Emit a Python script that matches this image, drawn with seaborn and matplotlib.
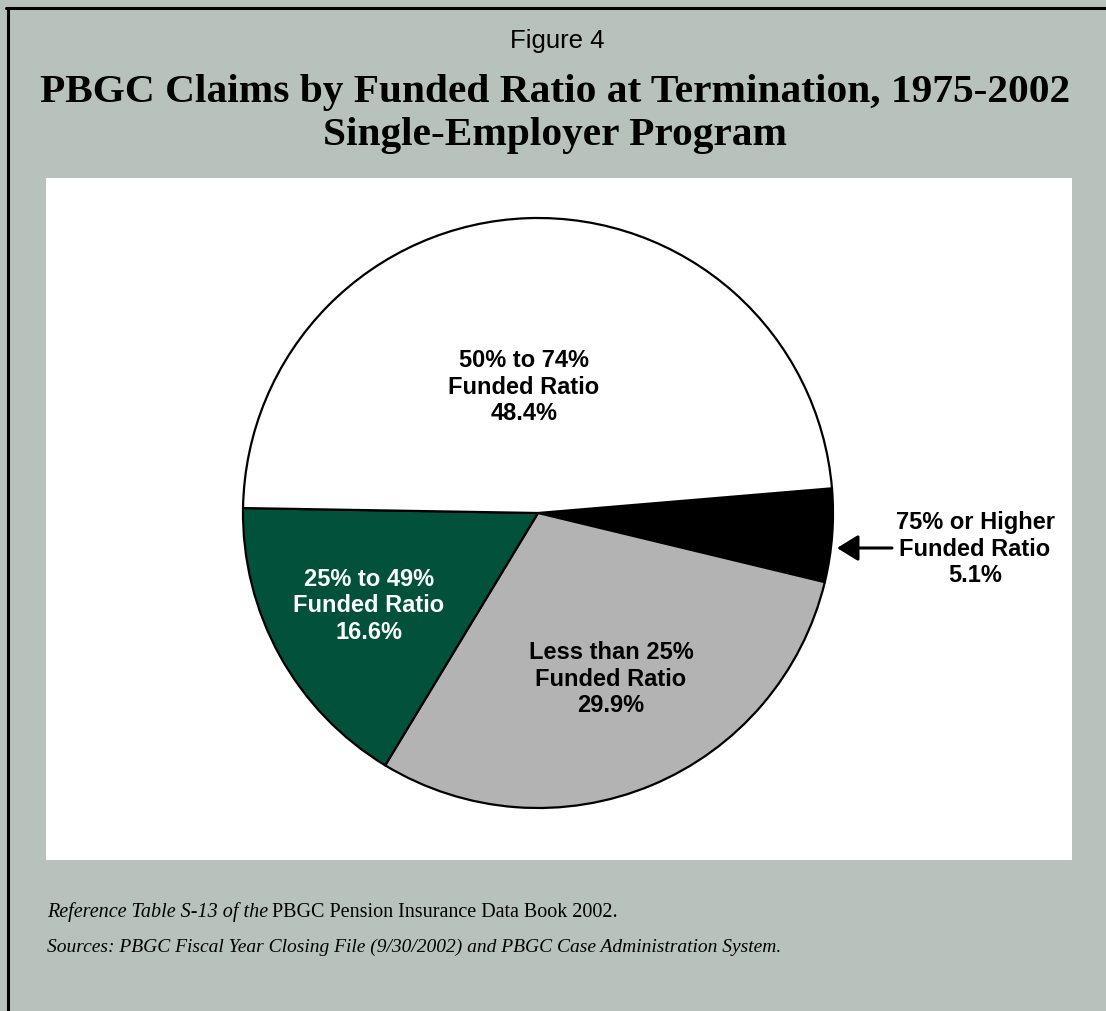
import matplotlib
matplotlib.use("Agg")
import matplotlib.pyplot as plt
import seaborn as sns
from matplotlib.patches import Rectangle
from matplotlib.lines import Line2D

# ---- data ----
categories = ["75% or Higher", "Less than 25%", "25% to 49%", "50% to 74%"]
shares = [5.1, 29.9, 16.6, 48.4]
label_lines = ["75% or Higher\nFunded Ratio\n5.1%",
               "Less than 25%\nFunded Ratio\n29.9%",
               "25% to 49%\nFunded Ratio\n16.6%",
               "50% to 74%\nFunded Ratio\n48.4%"]
slice_colors = ["#000000", "#b3b3b3", "#02523b", "#ffffff"]
text_colors = ["black", "black", "white", "black"]
title_lines = ["PBGC Claims by Funded Ratio at Termination, 1975-2002",
               "Single-Employer Program"]

sns.set_theme(style="white")
plt.rcParams['font.family'] = ['Liberation Sans', 'DejaVu Sans']
plt.rcParams['text.color'] = 'black'

W, H = 1106, 1011
BG = "#b8c2bd"
fig = plt.figure(figsize=(W / 100, H / 100), dpi=100, facecolor=BG)

def fx(px):
    return px / W

def fy(py):
    return 1 - py / H

# white panel
panel = Rectangle((fx(46), fy(860)), fx(1072) - fx(46), fy(178) - fy(860),
                  transform=fig.transFigure, facecolor="white", edgecolor="none", zorder=-5)
fig.patches.append(panel)

# border lines (top and left)
fig.lines.append(Line2D([fx(6), 1.0], [fy(8), fy(8)], transform=fig.transFigure,
                        color="black", lw=2.2, zorder=-4))
fig.lines.append(Line2D([fx(7.5), fx(7.5)], [fy(8), 0.0], transform=fig.transFigure,
                        color="black", lw=2.2, zorder=-4))

ax = fig.add_axes([fx(46), fy(860), fx(1072) - fx(46), fy(178) - fy(860)])
ax.set_facecolor("none")
ax.set_zorder(2)

wedges, _ = ax.pie(shares, colors=slice_colors, startangle=4.8, counterclock=False,
                   radius=1.0,
                   wedgeprops=dict(edgecolor="black", linewidth=1.6))

R = 295.0
cx, cy = 538.0, 513.0
ax.set_xlim(-(cx - 46) / R, (1072 - cx) / R)
ax.set_ylim(-(860 - cy) / R, (cy - 178) / R)
ax.set_aspect("auto")
ax.axis("off")

def d(px, py):
    return ((px - cx) / R, (cy - py) / R)

label_pos = [(975, 549), (611, 679), (369, 606), (524, 387)]
for txt, (px, py), col in zip(label_lines, label_pos, text_colors):
    ax.text(*d(px, py), txt, ha="center", va="center", fontsize=17,
            fontweight="bold", color=col, linespacing=1.17)

ax.annotate("", xy=d(837, 548), xytext=d(892, 548),
            arrowprops=dict(arrowstyle="-|>,head_length=0.65,head_width=0.4",
                            color="black", lw=2.2, mutation_scale=20,
                            shrinkA=0, shrinkB=0))

# titles
fig.text(fx(557), fy(48), "Figure 4", ha="center", va="baseline", fontsize=18.5,
         family="Liberation Sans", color="black")
for line, base in zip(title_lines, [102, 145]):
    fig.text(fx(555), fy(base), line, ha="center", va="baseline", fontsize=29.8,
             fontweight="bold", family="Liberation Serif", color="black")

# footnotes
t1 = fig.text(fx(47), fy(917), "Reference Table S-13 of the", ha="left", va="baseline",
              fontsize=14.5, style="italic", family="Liberation Serif", color="black")
fig.canvas.draw()
r = fig.canvas.get_renderer()
bb = t1.get_window_extent(renderer=r)
fig.text(bb.x1 / W + fx(4), fy(917), "PBGC Pension Insurance Data Book 2002.", ha="left",
         va="baseline", fontsize=14.5, family="Liberation Serif", color="black")
fig.text(fx(47), fy(952),
         "Sources: PBGC Fiscal Year Closing File (9/30/2002) and PBGC Case Administration System.",
         ha="left", va="baseline", fontsize=14, style="italic", family="Liberation Serif",
         color="black")

fig.savefig("out.png", dpi=100, facecolor=BG)
